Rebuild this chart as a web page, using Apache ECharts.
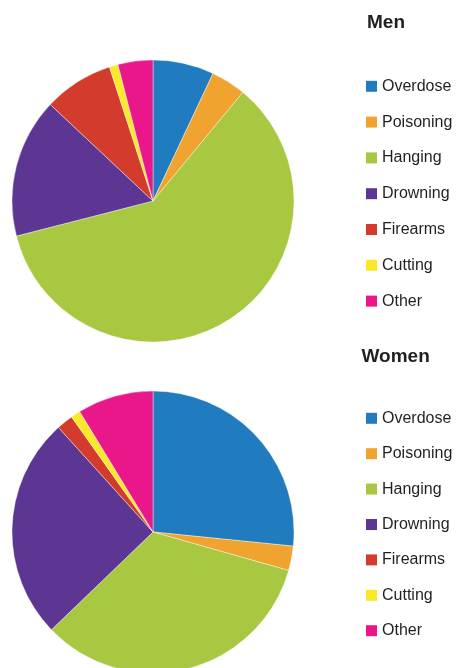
<!DOCTYPE html>
<html>
<head>
<meta charset="utf-8">
<script src="https://cdn.jsdelivr.net/npm/echarts@6/dist/echarts.min.js"></script>
<style>
  html, body { margin: 0; padding: 0; background: #fff; }
  #chart { width: 456px; height: 668px; }
</style>
</head>
<body>
<div id="chart"></div>
<script>
// Suicide methods by sex (% share)
const methods = ['Overdose', 'Poisoning', 'Hanging', 'Drowning', 'Firearms', 'Cutting', 'Other'];
const menValues = [7, 4, 60, 16, 8, 1, 4];
const womenValues = [26.6, 2.8, 33.4, 25.5, 1.9, 1.1, 8.7];
const methodColors = ['#217bbf', '#f0a32e', '#a7c840', '#5c3692', '#d33c2c', '#fce82a', '#e9178a'];

const toData = vals => methods.map((name, i) => ({ name, value: vals[i] }));

const textColor = '#231f20';
const legendBase = {
  orient: 'vertical',
  left: 366,
  padding: 0,
  icon: 'rect',
  itemWidth: 11,
  itemHeight: 11,
  selectedMode: false,
  itemStyle: { borderWidth: 0 },
  textStyle: { fontFamily: 'Liberation Sans, Arial, sans-serif', fontSize: 16, lineHeight: 16, color: textColor },
  data: methods
};
const titleBase = {
  padding: 0,
  textStyle: { fontFamily: 'Liberation Sans, Arial, sans-serif', fontSize: 19, lineHeight: 19, fontWeight: 'bold', color: textColor }
};
const pieBase = {
  type: 'pie',
  radius: 141,
  startAngle: 90,
  clockwise: true,
  label: { show: false },
  labelLine: { show: false },
  emphasis: { disabled: true },
  itemStyle: { borderColor: '#ffffff', borderWidth: 0.4 }
};

const chart = echarts.init(document.getElementById('chart'), null, { renderer: 'canvas' });
chart.setOption({
  animation: false,
  color: methodColors,
  title: [
    Object.assign({}, titleBase, { text: 'Men', left: 367, top: 13.5 }),
    Object.assign({}, titleBase, { text: 'Women', left: 361.5, top: 347.5 })
  ],
  legend: [
    Object.assign({}, legendBase, { top: 78.3, itemGap: 19.8 }),
    Object.assign({}, legendBase, { top: 410.3, itemGap: 19.4 })
  ],
  series: [
    Object.assign({}, pieBase, { name: 'Men', center: [153, 201], data: toData(menValues) }),
    Object.assign({}, pieBase, { name: 'Women', center: [153, 532], data: toData(womenValues) })
  ]
});
</script>
</body>
</html>
